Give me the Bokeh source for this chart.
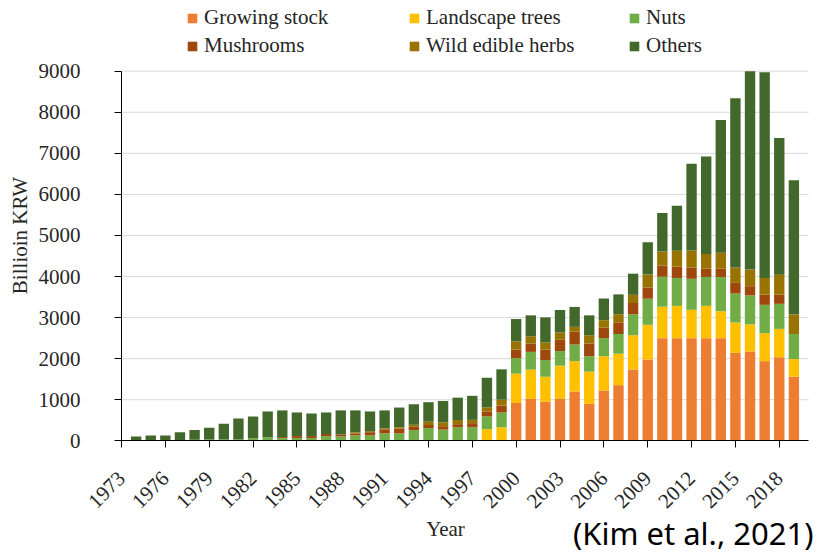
import math
from bokeh.plotting import figure
from bokeh.models import ColumnDataSource, Legend, LegendItem, Label, FixedTicker, Range1d
from bokeh.embed import file_html
from bokeh.resources import INLINE

# ---------------- data (Billion KRW) ----------------
years = list(range(1974, 2020))
tick_years = list(range(1973, 2019, 3))
y_ticks = list(range(0, 9001, 1000))

categories = ["Growing stock", "Landscape trees", "Nuts", "Mushrooms", "Wild edible herbs", "Others"]
colors = ["#ED7D31", "#FFC000", "#70AD47", "#9E480E", "#997300", "#43682B"]

growing_stock = [0] * 26 + [920, 1020, 950, 1020, 1200, 900, 1225, 1355, 1735, 1980,
                            2500, 2500, 2500, 2500, 2500, 2140, 2175, 1940, 2035, 1560]
landscape_trees = [0] * 24 + [285, 330, 715, 715, 610, 810, 740, 785, 835, 765, 835,
                              845, 765, 785, 690, 785, 655, 740, 660, 680, 690, 430]
nuts = [0] * 4 + [25, 30, 30, 30, 65, 90, 65, 65, 65, 115,
                  105, 130, 130, 180, 180, 260, 310, 275, 330, 330,
                  310, 360, 380, 430, 405, 355, 405, 375, 440, 480,
                  510, 635, 730, 680, 755, 705, 835, 705, 705, 690, 610, 610]
mushrooms = [0] * 10 + [25, 50, 50, 50, 50, 50, 80, 100, 120, 80,
                        75, 80, 75, 100, 120, 170, 205, 200, 255, 275,
                        310, 310, 255, 285, 275, 275, 275, 275, 275, 200,
                        200, 260, 225, 250, 225, 0]
wild_edible_herbs = [0] * 15 + [25, 25, 25, 30, 50, 80, 95, 100, 80, 100,
                                140, 200, 180, 175, 180, 120, 200, 180, 195, 200,
                                315, 340, 390, 415, 360, 390, 375, 405, 405, 485, 480]
others = [105, 130, 130, 210, 235, 285, 385, 515, 525, 625,
          650, 575, 550, 525, 585, 535, 480, 435, 480, 500,
          475, 520, 545, 585, 720, 740, 545, 510, 610, 545,
          485, 485, 530, 485, 515, 785, 940, 1095, 2110, 2370,
          3230, 4120, 4830, 5010, 3330, 3265]

series = [growing_stock, landscape_trees, nuts, mushrooms, wild_edible_herbs, others]
keys = ["growing", "landscape", "nuts", "mushrooms", "herbs", "others"]
for s in series:
    assert len(s) == len(years)

source = ColumnDataSource(data=dict(year=years, **{k: v for k, v in zip(keys, series)}))

# ---------------- layout geometry (pixels) ----------------
W, H = 822, 557
AX_LEFT, AX_RIGHT = 121.0, 808.0      # where the x axis runs (1973 .. 2020)
AX_BOTTOM, AX_TOP = 440.3, 70.7       # where the y axis runs (0 .. 9000)
X0, X1 = 1973, 2020
Y0, Y1 = 0, 9000
px_x = (AX_RIGHT - AX_LEFT) / (X1 - X0)
px_y = (AX_BOTTOM - AX_TOP) / (Y1 - Y0)
x_range = Range1d(X0 - AX_LEFT / px_x, X1 + (W - AX_RIGHT) / px_x)
y_range = Range1d(Y0 - (H - AX_BOTTOM) / px_y, Y1 + AX_TOP / px_y)

TEXT = "#262626"
SERIF = "Liberation Serif"

p = figure(frame_width=W, frame_height=H, x_range=x_range, y_range=y_range,
           output_backend="svg", toolbar_location=None,
           min_border=0, min_border_left=0, min_border_right=0,
           min_border_top=0, min_border_bottom=0)
p.outline_line_color = None
p.xgrid.visible = False
p.ygrid.visible = False

# horizontal gridlines, between the axes only
p.segment(x0=[X0] * len(y_ticks[1:]), x1=[X1] * len(y_ticks[1:]), y0=y_ticks[1:], y1=y_ticks[1:],
          line_color="#d9d9d9", line_width=1, level="underlay")

renderers = p.vbar_stack(keys, x="year", width=0.71, source=source,
                         color=colors, line_color=None)

# axes drawn at fixed data positions
p.xaxis.fixed_location = Y0
p.yaxis.fixed_location = X0
p.xaxis.bounds = (X0, X1)
p.yaxis.bounds = (Y0, Y1)
p.xaxis.ticker = FixedTicker(ticks=tick_years)
p.yaxis.ticker = FixedTicker(ticks=y_ticks)
for ax in (p.xaxis[0], p.yaxis[0]):
    ax.axis_line_color = "black"
    ax.major_tick_line_color = "black"
    ax.major_tick_out = 7
    ax.major_tick_in = 0
    ax.minor_tick_line_color = None
    ax.major_label_text_font = SERIF
    ax.major_label_text_font_size = "21px"
    ax.major_label_text_color = TEXT
p.yaxis.major_label_standoff = 34
p.xaxis.major_label_orientation = math.pi / 4
p.xaxis.major_label_standoff = 27

# axis titles and source note (screen units from the bottom-left corner)
p.add_layout(Label(x=445, y=H - 528, x_units="screen", y_units="screen", text="Year",
                   text_align="center", text_baseline="alphabetic",
                   text_font=SERIF, text_font_size="21px", text_color=TEXT))
p.add_layout(Label(x=19, y=H - 235, x_units="screen", y_units="screen", text="Billioin KRW",
                   angle=math.pi / 2, text_align="center", text_baseline="alphabetic",
                   text_font=SERIF, text_font_size="21px", text_color=TEXT))
p.add_layout(Label(x=813, y=H - 532, x_units="screen", y_units="screen", text="(Kim et al., 2021)",
                   text_align="right", text_baseline="alphabetic",
                   text_font="Noto Sans", text_font_size="31px", text_color="black"))

# legend: three columns of two rows
for a, b, xpos in [(0, 3, 186), (1, 4, 408), (2, 5, 628)]:
    leg = Legend(items=[LegendItem(label=categories[a], renderers=[renderers[a]]),
                        LegendItem(label=categories[b], renderers=[renderers[b]])],
                 location=(xpos, H - 58), orientation="vertical",
                 glyph_width=12, glyph_height=12, label_standoff=6,
                 label_height=24, padding=0, margin=0, spacing=3,
                 border_line_color=None, background_fill_alpha=0,
                 label_text_font=SERIF, label_text_font_size="21px",
                 label_text_color=TEXT)
    p.add_layout(leg)

open("out.html", "w").write(file_html(p, INLINE))
